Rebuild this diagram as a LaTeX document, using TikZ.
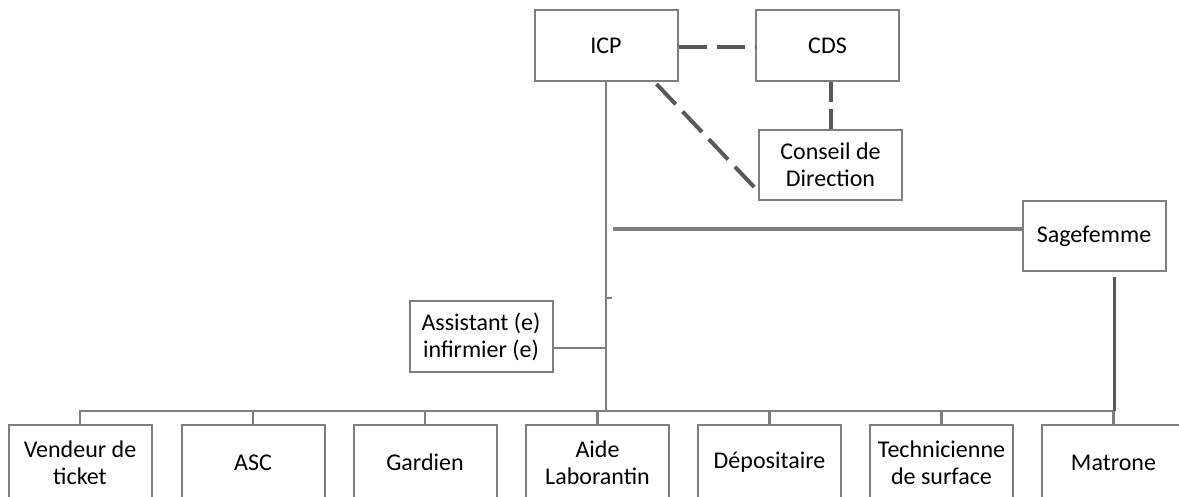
\documentclass[tikz,border=0pt]{standalone}
\usepackage{fontspec}
\setmainfont{Carlito}
\usetikzlibrary{calc}
\definecolor{boxgray}{HTML}{7F7F7F}
\definecolor{dashgray}{HTML}{595959}
\begin{document}
\begin{tikzpicture}[x=1pt,y=-1pt,
  box/.style={draw=boxgray,line width=2pt,fill=white,minimum width=143pt,minimum height=71pt,inner sep=2pt,align=center,font=\fontsize{24}{27}\selectfont},
  bbox/.style={box,minimum height=75pt},
  link/.style={draw=boxgray,line width=2.5pt},
  dlink/.style={draw=dashgray,line width=4pt,dash pattern=on 28pt off 10pt}]
\useasboundingbox (0,0) rectangle (1179,496);
% top nodes
\node[box] (icp) at (606,45.5) {ICP};
\node[box] (cds) at (827.5,45.5) {CDS};
\node[box,minimum height=70pt] (con) at (830.5,165) {Conseil de\\Direction};
\node[box,minimum height=70pt] (sage) at (1094,236) {Sagefemme};
\node[box] (asst) at (481,336.5) {Assistant (e)\\infirmier (e)};
% bottom nodes
\node[bbox] (b1) at (80,462.5) {Vendeur de\\ticket};
\node[bbox] (b2) at (253,462.5) {ASC};
\node[bbox] (b3) at (425,462.5) {Gardien};
\node[bbox] (b4) at (597.5,462.5) {Aide\\Laborantin};
\node[bbox] (b5) at (769.5,462.5) {Dépositaire};
\node[bbox] (b6) at (941.5,462.5) {Technicienne\\de surface};
\node[bbox] (b7) at (1113.5,462.5) {Matrone};
% dashed links
\draw[dlink] ($(icp.east)+(0,1.5)$) -- ($(cds.west)+(0,1.5)$);
\draw[dlink,dash pattern=on 20pt off 7pt] (con.north |- cds.south) -- (con.north);
\draw[dlink] ($(icp.south east)+(-22,2)$) -- ($(con.south west)+(-2,-12)$);
% bus
\coordinate (busL) at (80,411);
\draw[link] (icp.south) -- (icp.south |- busL);
\draw[link,line join=miter] (b1.north) |- (b7.north |- busL) -- (b7.north);
\foreach \n in {b2,b3,b4,b5,b6}{\draw[link] (\n.north) -- (\n.north |- busL);}
% sagefemme links
\coordinate (sv) at ($(sage.south)+(20,5)$);
\draw[draw=dashgray,line width=3pt] (sv) -- (sv |- busL);
\coordinate (sh) at ($(sage.west)+(0,-7)$);
\draw[link,line width=3.5pt] (sh) -- ++(-409,0);
% small tick
\coordinate (tk) at (icp.south |- 0,298);
\draw[link,line width=2pt] (tk) -- ++(6,0);
% assistant link
\coordinate (ae) at ($(asst.east)+(0,11.5)$);
\draw[link] (ae) -- (ae -| icp.south);
\end{tikzpicture}
\end{document}
